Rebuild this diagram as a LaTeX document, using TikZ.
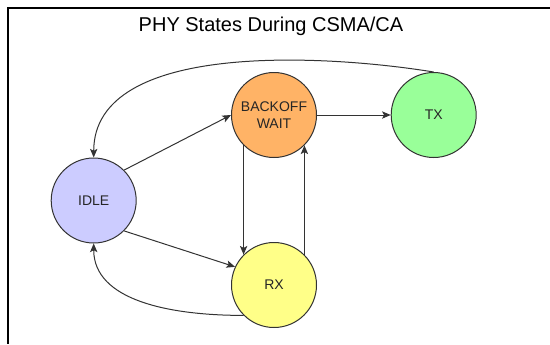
\documentclass[tikz,border=0pt]{standalone}
\usepackage{fontspec}
\setmainfont{Liberation Sans}
\usetikzlibrary{arrows.meta}
\definecolor{idlefill}{RGB}{204,204,255}
\definecolor{backofffill}{RGB}{255,179,102}
\definecolor{txfill}{RGB}{153,255,153}
\definecolor{rxfill}{RGB}{255,255,136}
\definecolor{edgegray}{RGB}{51,51,51}
\begin{document}
\begin{tikzpicture}[
    x=0.75pt,y=-0.75pt,
    state/.style={circle,draw=edgegray,line width=0.75pt,minimum size=63.75pt,
        inner sep=0pt,align=center,text=black!85,font=\fontsize{10.5}{12.6}\selectfont},
    edge/.style={->,draw=edgegray,line width=0.75pt},
    >={Stealth[length=6.5pt,width=5.5pt,inset=1.5pt]}
]
\useasboundingbox (0,0) rectangle (550,344);
\draw[line width=1.5pt] (550,8) -- (8,8) -- (8,344);

\node[font=\fontsize{15}{18}\selectfont] (title) at (271,26) {PHY States During CSMA/CA};

\node[state,fill=idlefill] (idle) at (93.7,200.5) {IDLE};
\node[state,fill=backofffill] (backoff) at (274,115) {BACKOFF\\WAIT};
\node[state,fill=txfill] (tx) at (433.7,115) {TX};
\node[state,fill=rxfill] (rx) at (274,285) {RX};

\draw[edge] (idle.45)--(backoff.west);
\draw[edge] (idle.-45)--(rx.155);
\draw[edge] (backoff.east)--(tx.west);
\draw[edge] (backoff.225)--(rx.135);
\draw[edge] (rx.45)--(backoff.315);
\draw[edge] (tx.north) .. controls +(-104,-17) and +(0,-118) .. (idle.north);
\draw[edge] (rx.225) .. controls +(-74,0) and +(0,57) .. (idle.south);
\end{tikzpicture}
\end{document}
